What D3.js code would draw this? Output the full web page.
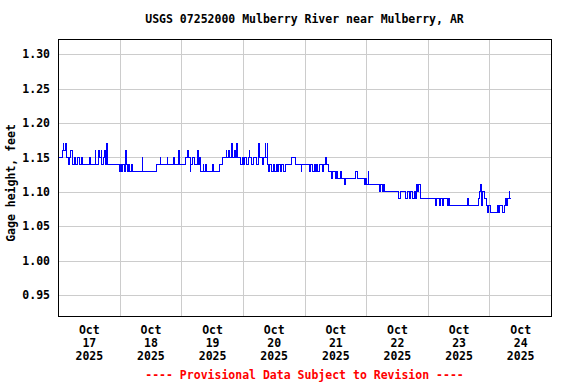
<!DOCTYPE html>
<html>
<head>
<meta charset="utf-8">
<script src="https://cdn.jsdelivr.net/npm/d3@7"></script>
<style>
  body { margin: 0; background: #fff; }
  svg text { font-family: "DejaVu Sans Mono", monospace; font-weight: bold; font-size: 11.5px; }
  .grid line { stroke: #cccccc; shape-rendering: crispEdges; }
  .grid path { display: none; }
</style>
</head>
<body>
<svg width="576" height="384"></svg>
<script>
const svg = d3.select("svg");

const width = 576;
const height = 384;

const margin = { top: 39, right: 25, bottom: 68, left: 58 };

// 15-minute gage height readings, stored as step change points
// hours after 2025-10-17 00:00
const hoursSinceStart = [
    0, 1.75, 2, 2.25, 2.75, 3, 3.25, 3.5, 4, 4.5, 5, 5.5, 5.75, 6.25, 7, 7.75, 8.25, 9, 9.5,
    12.25, 12.5, 14.5, 14.75, 15.75, 16, 16.75, 17, 17.75, 18.25, 18.5, 19, 19.25,
    24, 24.25, 24.75, 25.25, 25.75, 26.25, 26.5, 27, 27.5, 28, 28.5, 29, 32.75, 33,
    38.25, 39.75, 40, 42.5, 42.75, 45, 45.25, 47, 47.25, 49.5, 50.5, 50.75, 51.5, 51.75,
    52.5, 53, 54.5, 54.75, 55.25, 55.5, 56.5, 56.75, 57.25, 58, 60.25, 60.75, 62.75,
    64.25, 65.5, 65.75, 66.5, 66.75, 67.75, 68, 68.75, 69, 69.5, 69.75, 71.25, 71.75,
    72.25, 72.75, 73.25, 74, 74.5, 74.75, 75.5, 76.25, 77.5, 78.25, 78.5, 79.5, 80,
    80.75, 81, 81.5, 81.75, 82, 82.5, 83.25, 83.75, 84.5, 85, 85.5, 86, 86.5, 87, 88, 88.5,
    91, 92.5, 94.75, 95, 98, 98.5, 99.25, 99.75, 100.25, 100.75, 101.25, 101.75, 103, 103.5,
    104, 104.5, 105.25, 106.5, 107, 108, 108.5, 109, 110, 110.5, 111.5, 112,
    116, 116.75, 119.25, 119.75, 120.25, 120.75, 121, 125.25, 125.75, 126.25, 126.75, 127.25,
    132.75, 133.25, 135.5, 136, 136.75, 137.25, 138.25, 138.75, 139.25, 139.5, 140, 140.5,
    141, 141.25, 147, 147.5, 148.5, 149, 149.75, 150.25, 151.5, 152, 152.5,
    159.5, 159.75, 163.75, 164, 164.5, 164.75, 165, 165.5, 166, 166.75, 167.25, 167.75,
    168.25, 171.25, 171.5, 172, 173.25, 173.75, 174.25, 174.75, 175.25, 175.75, 176, 176.5
];
const gageFeet = [
    1.15, 1.16, 1.17, 1.16, 1.17, 1.16, 1.17, 1.15, 1.14, 1.15, 1.16, 1.15, 1.14, 1.15, 1.14, 1.15, 1.14, 1.15, 1.14,
    1.15, 1.14, 1.16, 1.14, 1.16, 1.15, 1.16, 1.14, 1.15, 1.16, 1.14, 1.17, 1.14,
    1.13, 1.14, 1.13, 1.14, 1.13, 1.16, 1.14, 1.13, 1.14, 1.13, 1.14, 1.13, 1.15, 1.13,
    1.14, 1.15, 1.14, 1.15, 1.14, 1.15, 1.14, 1.16, 1.14, 1.15, 1.16, 1.15, 1.13, 1.14,
    1.15, 1.14, 1.16, 1.14, 1.15, 1.13, 1.14, 1.13, 1.14, 1.13, 1.14, 1.13, 1.14,
    1.15, 1.16, 1.15, 1.16, 1.15, 1.17, 1.15, 1.16, 1.15, 1.17, 1.15, 1.14, 1.15,
    1.14, 1.15, 1.14, 1.15, 1.16, 1.15, 1.14, 1.15, 1.14, 1.17, 1.15, 1.14, 1.15,
    1.17, 1.15, 1.17, 1.14, 1.13, 1.14, 1.13, 1.14, 1.13, 1.14, 1.13, 1.14, 1.13, 1.14, 1.13, 1.14,
    1.15, 1.14, 1.13, 1.14, 1.13, 1.14, 1.13, 1.14, 1.13, 1.14, 1.13, 1.14, 1.13, 1.14,
    1.15, 1.14, 1.13, 1.12, 1.13, 1.12, 1.13, 1.12, 1.13, 1.12, 1.11, 1.12,
    1.13, 1.12, 1.11, 1.12, 1.11, 1.13, 1.11, 1.10, 1.11, 1.10, 1.11, 1.10,
    1.09, 1.10, 1.09, 1.10, 1.09, 1.10, 1.09, 1.10, 1.09, 1.11, 1.10, 1.11,
    1.10, 1.09, 1.08, 1.09, 1.08, 1.09, 1.08, 1.09, 1.08, 1.09, 1.08,
    1.09, 1.08, 1.09, 1.10, 1.11, 1.09, 1.08, 1.10, 1.09, 1.08, 1.07, 1.08,
    1.07, 1.08, 1.07, 1.08, 1.07, 1.08, 1.09, 1.08, 1.09, 1.10, 1.09, 1.09
];

const yTicks = [0.95, 1.00, 1.05, 1.10, 1.15, 1.20, 1.25, 1.30];
const dayLabels = ["17", "18", "19", "20", "21", "22", "23", "24"];

const start = new Date(2025, 9, 17, 0, 0);
const end = new Date(2025, 9, 25, 0, 0);

const data = hoursSinceStart.map((h, i) => ({
    date: d3.timeMinute.offset(start, Math.round(h * 60)),
    value: gageFeet[i]
}));

const xScale = d3.scaleTime()
    .domain([start, end])
    .range([margin.left, width - margin.right]);

const yScale = d3.scaleLinear()
    .domain([0.9195, 1.3222])
    .range([height - margin.bottom, margin.top]);

const midnights = d3.timeDay.range(d3.timeDay.offset(start, 1), end);
const noons = dayLabels.map((d, i) => d3.timeHour.offset(start, 24 * i + 12));

// grid
svg.append("g")
    .attr("class", "grid")
    .attr("transform", `translate(0, ${height - margin.bottom})`)
    .call(d3.axisBottom(xScale)
        .tickValues(midnights)
        .tickSize(-(height - margin.top - margin.bottom))
        .tickFormat(""));

svg.append("g")
    .attr("class", "grid")
    .attr("transform", `translate(${margin.left}, 0)`)
    .call(d3.axisLeft(yScale)
        .tickValues(yTicks)
        .tickSize(-(width - margin.left - margin.right))
        .tickFormat(""));

// data line
const line = d3.line()
    .curve(d3.curveStepAfter)
    .x(d => xScale(d.date))
    .y(d => yScale(d.value));

svg.append("path")
    .datum(data)
    .attr("fill", "none")
    .attr("stroke", "#0000ff")
    .attr("stroke-width", 1)
    .attr("shape-rendering", "crispEdges")
    .attr("d", line);

// frame
svg.append("rect")
    .attr("x", margin.left + 0.5)
    .attr("y", margin.top + 0.5)
    .attr("width", width - margin.left - margin.right)
    .attr("height", height - margin.top - margin.bottom)
    .attr("fill", "none")
    .attr("stroke", "#000")
    .attr("shape-rendering", "crispEdges");

// y tick labels
const yAxis = svg.append("g")
    .attr("transform", `translate(${margin.left}, 0)`)
    .call(d3.axisLeft(yScale)
        .tickValues(yTicks)
        .tickSize(0)
        .tickPadding(8)
        .tickFormat(d3.format(".2f")));
yAxis.select(".domain").remove();
yAxis.selectAll("text")
    .attr("font-family", null)
    .attr("font-size", null)
    .attr("fill", "#000");

// x tick labels: three lines each
const xAxis = svg.append("g")
    .attr("transform", `translate(0, ${height - margin.bottom})`)
    .call(d3.axisBottom(xScale)
        .tickValues(noons)
        .tickSize(0)
        .tickFormat(""));
xAxis.select(".domain").remove();
xAxis.selectAll(".tick").each(function(d, i) {
    const t = d3.select(this).append("text")
        .attr("fill", "#000")
        .attr("text-anchor", "middle");
    ["Oct", dayLabels[i], "2025"].forEach((s, k) => {
        t.append("tspan").attr("x", 0).attr("y", 18 + 13 * k).text(s);
    });
});

// titles
svg.append("text")
    .attr("x", (margin.left + width - margin.right) / 2)
    .attr("y", 23)
    .attr("text-anchor", "middle")
    .text("USGS 07252000 Mulberry River near Mulberry, AR");

svg.append("text")
    .attr("transform", "rotate(-90)")
    .attr("x", -183)
    .attr("y", 15)
    .attr("text-anchor", "middle")
    .text("Gage height, feet");

svg.append("text")
    .attr("x", (margin.left + width - margin.right) / 2)
    .attr("y", 379)
    .attr("text-anchor", "middle")
    .attr("fill", "#ff0000")
    .text("---- Provisional Data Subject to Revision ----");
</script>
</body>
</html>
